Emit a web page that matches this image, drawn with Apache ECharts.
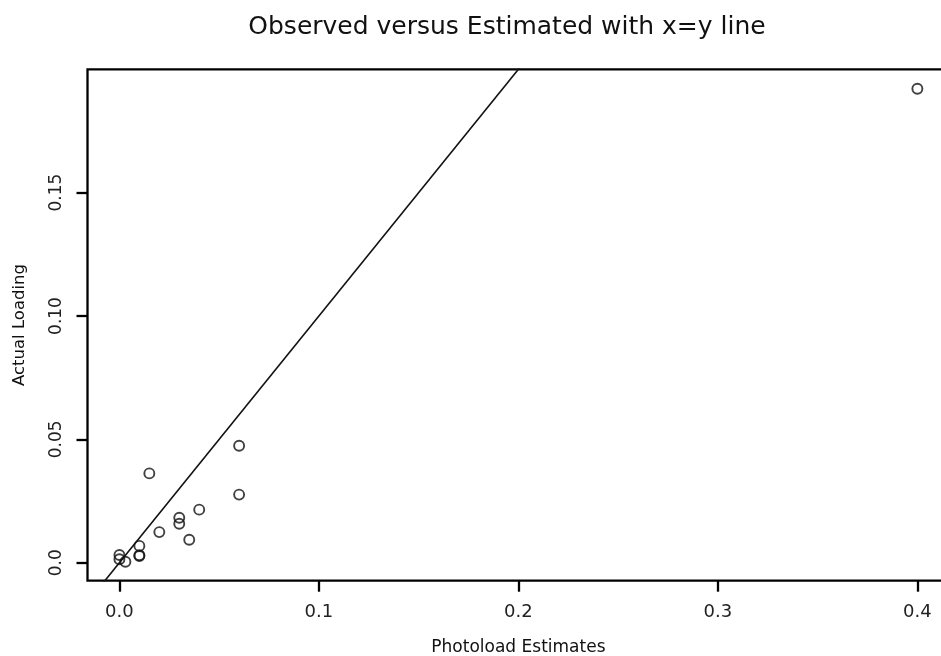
<!DOCTYPE html>
<html>
<head>
<meta charset="utf-8">
<script src="https://cdn.jsdelivr.net/npm/echarts@6/dist/echarts.min.js"></script>
<style>
html,body{margin:0;padding:0;background:#fff;}
#chart{width:941px;height:656px;}
</style>
</head>
<body>
<div id="chart"></div>
<script>
// ---- data ----
var titleText = 'Observed versus Estimated with x=y line';
var xName = 'Photoload Estimates';
var yName = 'Actual Loading';
var photoload = [0.060, 0.015, 0.060, 0.040, 0.030, 0.030, 0.020, 0.035, 0.010, 0.010, 0.010, 0.000, 0.000, 0.003, 0.400];
var actual    = [0.0474, 0.0362, 0.0276, 0.0215, 0.0182, 0.0158, 0.0124, 0.0093, 0.0068, 0.0027, 0.0030, 0.0031, 0.0014, 0.0004, 0.1921];
var xTicks = [0, 0.1, 0.2, 0.3, 0.4];
var xTickLabels = ['0.0', '0.1', '0.2', '0.3', '0.4'];
var yTicks = [0, 0.05, 0.10, 0.15];
var yTickLabels = ['0.0', '0.05', '0.10', '0.15'];
var abline = {intercept: 0, slope: 1};

// ---- chart ----
var xMin = -0.016, xMax = 0.416, yMin = -0.0073, yMax = 0.2;
var points = photoload.map(function (v, i) { return [v, actual[i]]; });
var lineData = [xMin, xMax].map(function (x) { return [x, abline.intercept + abline.slope * x]; });

function lbl(values, labels) {
  return function (v) {
    for (var i = 0; i < values.length; i++) if (Math.abs(values[i] - v) < 1e-9) return labels[i];
    return '';
  };
}

var chart = echarts.init(document.getElementById('chart'), null, {renderer: 'canvas'});
chart.setOption({
  animation: false,
  backgroundColor: '#ffffff',
  title: {
    text: titleText,
    left: 502,
    top: 10,
    textAlign: 'center',
    textStyle: {fontFamily: 'DejaVu Sans', fontSize: 25, fontWeight: 'normal', color: '#111'}
  },
  grid: {
    left: 87.5, top: 69.3, width: 861.8, height: 511.4,
    show: true, borderColor: '#000', borderWidth: 2.3,
    outerBoundsMode: 'none', containLabel: false
  },
  xAxis: {
    type: 'value', min: xMin, max: xMax,
    name: xName, nameLocation: 'middle', nameGap: 58,
    nameTextStyle: {fontFamily: 'DejaVu Sans', fontSize: 17, color: '#111'},
    axisLine: {show: false, onZero: false},
    axisTick: {show: true, customValues: xTicks, length: 11, lineStyle: {color: '#000', width: 2.3}},
    axisLabel: {customValues: xTicks, formatter: lbl(xTicks, xTickLabels), margin: 23,
      fontFamily: 'DejaVu Sans', fontSize: 18, color: '#222'},
    splitLine: {show: false}
  },
  yAxis: {
    type: 'value', min: yMin, max: yMax,
    name: yName, nameLocation: 'middle', nameGap: 59,
    nameTextStyle: {fontFamily: 'DejaVu Sans', fontSize: 16.5, color: '#111'},
    axisLine: {show: false, onZero: false},
    axisTick: {show: true, customValues: yTicks, length: 11, lineStyle: {color: '#000', width: 2.3}},
    axisLabel: {customValues: yTicks, formatter: lbl(yTicks, yTickLabels), margin: 22, rotate: 90,
      fontFamily: 'DejaVu Sans', fontSize: 17, color: '#222'},
    splitLine: {show: false}
  },
  series: [
    {
      type: 'line', data: lineData, clip: true, symbol: 'none', silent: true,
      lineStyle: {color: '#111', width: 1.6}
    },
    {
      type: 'scatter', data: points, symbol: 'circle', symbolSize: 10,
      itemStyle: {color: 'rgba(0,0,0,0)', borderColor: '#111', borderWidth: 1.9}
    }
  ]
});
</script>
</body>
</html>
